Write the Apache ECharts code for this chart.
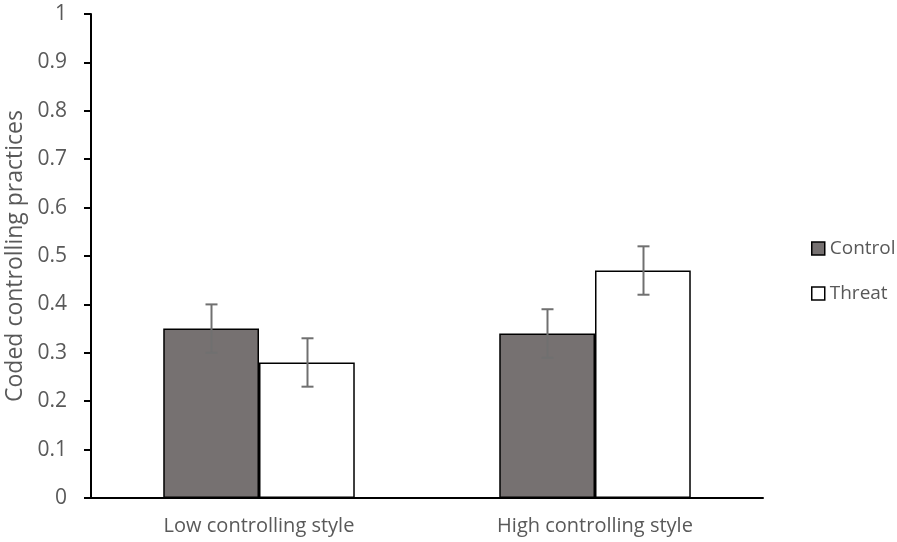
<!DOCTYPE html>
<html>
<head>
<meta charset="utf-8">
<script src="https://cdn.jsdelivr.net/npm/echarts@6/dist/echarts.min.js"></script>
<style>html,body{margin:0;padding:0;background:#fff;}#c{width:897px;height:542px;}</style>
</head>
<body>
<div id="c"></div>
<script>
var categories = ['Low controlling style', 'High controlling style'];
var controlValues = [0.35, 0.34];
var threatValues = [0.28, 0.47];
var controlErr = [0.05, 0.05];
var threatErr = [0.05, 0.05];
var yTicks = [0, 0.1, 0.2, 0.3, 0.4, 0.5, 0.6, 0.7, 0.8, 0.9, 1];

var FONT = 'Open Sans';
var BAR_FRAC = 0.285;

function errSeries(vals, errs, side) {
  var data = vals.map(function (v, i) { return [i, v - errs[i], v + errs[i]]; });
  return {
    type: 'custom',
    silent: true,
    z: 10,
    data: data,
    renderItem: function (params, api) {
      var band = api.size([1, 0])[0];
      var off = side * band * BAR_FRAC / 2;
      var lo = api.coord([api.value(0), api.value(1)]);
      var hi = api.coord([api.value(0), api.value(2)]);
      var x = Math.round(lo[0] + off) + 0.5;
      var cap = 6;
      var st = { stroke: '#707070', lineWidth: 2 };
      return {
        type: 'group',
        children: [
          { type: 'line', shape: { x1: x, y1: lo[1], x2: x, y2: hi[1] }, style: st },
          { type: 'line', shape: { x1: x - cap, y1: lo[1], x2: x + cap, y2: lo[1] }, style: st },
          { type: 'line', shape: { x1: x - cap, y1: hi[1], x2: x + cap, y2: hi[1] }, style: st }
        ]
      };
    }
  };
}

var chart = echarts.init(document.getElementById('c'), null, { renderer: 'canvas' });
chart.setOption({
  animation: false,
  textStyle: { fontFamily: FONT },
  grid: { left: 91, right: 134, top: 14, bottom: 44, containLabel: false, outerBoundsMode: 'none' },
  legend: {
    orient: 'vertical',
    left: 806,
    top: 234,
    itemWidth: 13,
    itemHeight: 13,
    itemGap: 26,
    itemStyle: { borderWidth: 1.5 },
    icon: 'rect',
    textStyle: { fontFamily: FONT, fontSize: 19, color: '#595959' },
    data: ['Control', 'Threat']
  },
  xAxis: {
    type: 'category',
    data: categories,
    axisLine: { lineStyle: { color: '#000', width: 2 } },
    axisTick: { show: false },
    axisLabel: { fontFamily: FONT, fontSize: 20, color: '#595959', margin: 18 }
  },
  yAxis: {
    type: 'value',
    min: 0,
    max: 1,
    interval: 0.1,
    name: 'Coded controlling practices',
    nameLocation: 'middle',
    nameGap: 62,
    nameTextStyle: { fontFamily: FONT, fontSize: 23, color: '#595959' },
    axisLine: { show: true, lineStyle: { color: '#000', width: 2 } },
    axisTick: { show: true, length: 7, lineStyle: { color: '#000', width: 2 } },
    splitLine: { show: false },
    axisLabel: {
      fontFamily: FONT, fontSize: 21, color: '#595959', margin: 24,
      formatter: function (v) { var r = Math.round(v * 10) / 10; return yTicks.indexOf(r) >= 0 ? String(r) : ''; }
    }
  },
  series: [
    {
      name: 'Control', type: 'bar', data: controlValues,
      barWidth: (BAR_FRAC * 100) + '%', barGap: '0%',
      itemStyle: { color: '#767171', borderColor: '#000', borderWidth: 1.5 }
    },
    {
      name: 'Threat', type: 'bar', data: threatValues,
      barWidth: (BAR_FRAC * 100) + '%', barGap: '0%',
      itemStyle: { color: '#ffffff', borderColor: '#000', borderWidth: 1.5 }
    },
    errSeries(controlValues, controlErr, -1),
    errSeries(threatValues, threatErr, 1)
  ]
});
</script>
</body>
</html>
